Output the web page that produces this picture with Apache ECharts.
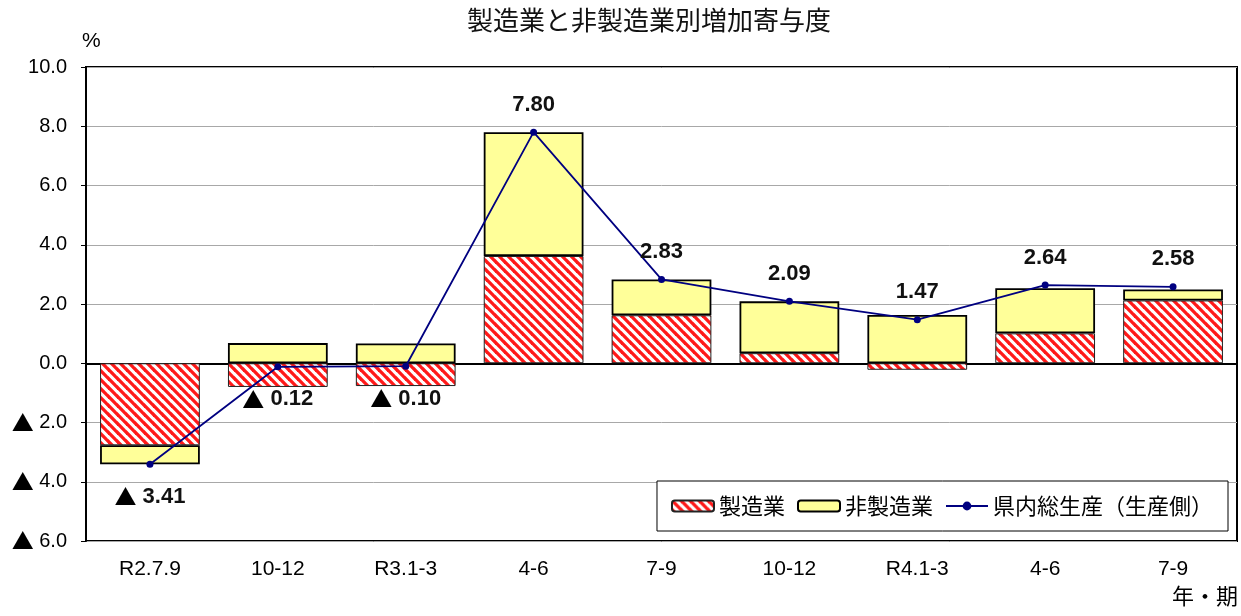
<!DOCTYPE html>
<html><head><meta charset="utf-8">
<script src="https://cdn.jsdelivr.net/npm/echarts@6/dist/echarts.min.js"></script>
<style>html,body{margin:0;padding:0;background:#fff}#c{width:1241px;height:616px}</style>
</head><body><div id="c"></div>
<script>
var categories = ['R2.7.9','10-12','R3.1-3','4-6','7-9','10-12','R4.1-3','4-6','7-9'];
var manufacturing = [-2.77,-0.80,-0.77,3.62,1.62,0.34,-0.22,1.01,2.12];
var nonManufacturing = [-0.64,0.68,0.67,4.18,1.21,1.75,1.63,1.52,0.37];
var total = [-3.41,-0.12,-0.10,7.80,2.83,2.09,1.47,2.64,2.58];

function hatch(){
  var s = 9, c = document.createElement('canvas');
  c.width = s; c.height = s;
  var g = c.getContext('2d');
  g.fillStyle = '#fff'; g.fillRect(0,0,s,s);
  g.strokeStyle = '#ff1a1a'; g.lineWidth = 3.3;
  for (var k=-1;k<=1;k++){ g.beginPath(); g.moveTo(-1, k*s-1); g.lineTo(s+1, s+k*s+1); g.stroke(); }
  return {image:c, repeat:'repeat'};
}
var pat = hatch();
var font = "'Noto Sans CJK JP', sans-serif";
var latin = "'Liberation Sans', sans-serif";
var chart = echarts.init(document.getElementById('c'));
chart.setOption({
  animation:false,
  title:{text:'製造業と非製造業別増加寄与度', left:462, top:2,
    textStyle:{fontFamily:font, fontSize:26, fontWeight:'normal', color:'#111'}},
  graphic:[
    {type:'text', left:82, top:31, style:{text:'%', fontFamily:latin, fontSize:21, fill:'#000'}},
    {type:'text', right:3, top:585, style:{text:'年・期', fontFamily:font, fontSize:22, fill:'#000'}}
  ],
  legend:{right:13, top:481, orient:'horizontal',
    padding:[14,15,14,14], itemGap:12, itemWidth:42, itemHeight:11,
    borderColor:'#000', borderWidth:1, backgroundColor:'#fff',
    textStyle:{fontFamily:font, fontSize:22, color:'#000'},
    data:['製造業','非製造業','県内総生産（生産側）']},
  grid:{left:86, right:4, top:67, bottom:75, show:true, borderColor:'#000', borderWidth:2, backgroundColor:'#fff'},
  xAxis:{type:'category', data:categories,
    axisLine:{lineStyle:{color:'#000', width:2}},
    axisTick:{inside:true, length:7, lineStyle:{color:'#000'}},
    axisLabel:{fontFamily:latin, fontSize:21, color:'#000', margin:18}},
  yAxis:{type:'value', min:-6, max:10, interval:2,
    axisLine:{show:true, lineStyle:{color:'#000', width:2}},
    axisTick:{show:true, length:5, lineStyle:{color:'#000'}},
    splitLine:{lineStyle:{color:'#a8a8a8', width:1}},
    axisLabel:{fontFamily:latin, fontSize:20, color:'#000', margin:19,
      rich:{t:{fontFamily:font, fontSize:22, color:'#000'}},
      formatter:function(v){ return v<0 ? '{t|▲} '+Math.abs(v).toFixed(1) : v.toFixed(1); }}},
  series:[
    {name:'製造業', type:'bar', stack:'a', barWidth:'78%', data:manufacturing,
      itemStyle:{color:pat, borderColor:'#222', borderWidth:1}},
    {name:'非製造業', type:'bar', stack:'a', barWidth:'78%', data:nonManufacturing,
      itemStyle:{color:'#ffff99', borderColor:'#000', borderWidth:1.8}},
    {name:'県内総生産（生産側）', type:'line', z:5,
      data: total.map(function(v){
        return {value:v, label:{position: v<0 ? 'bottom':'top', distance: v<0 ? 18 : 13}};
      }),
      symbol:'circle', symbolSize:7,
      lineStyle:{color:'#000080', width:1.8}, itemStyle:{color:'#000080'},
      label:{show:true, fontFamily:latin, fontWeight:'bold', fontSize:22, color:'#111',
        rich:{t:{fontFamily:font, fontSize:22, color:'#000'}},
        formatter:function(p){ var v=p.value; return v<0 ? '{t|▲} '+Math.abs(v).toFixed(2) : v.toFixed(2); }}}
  ]
});
</script></body></html>
